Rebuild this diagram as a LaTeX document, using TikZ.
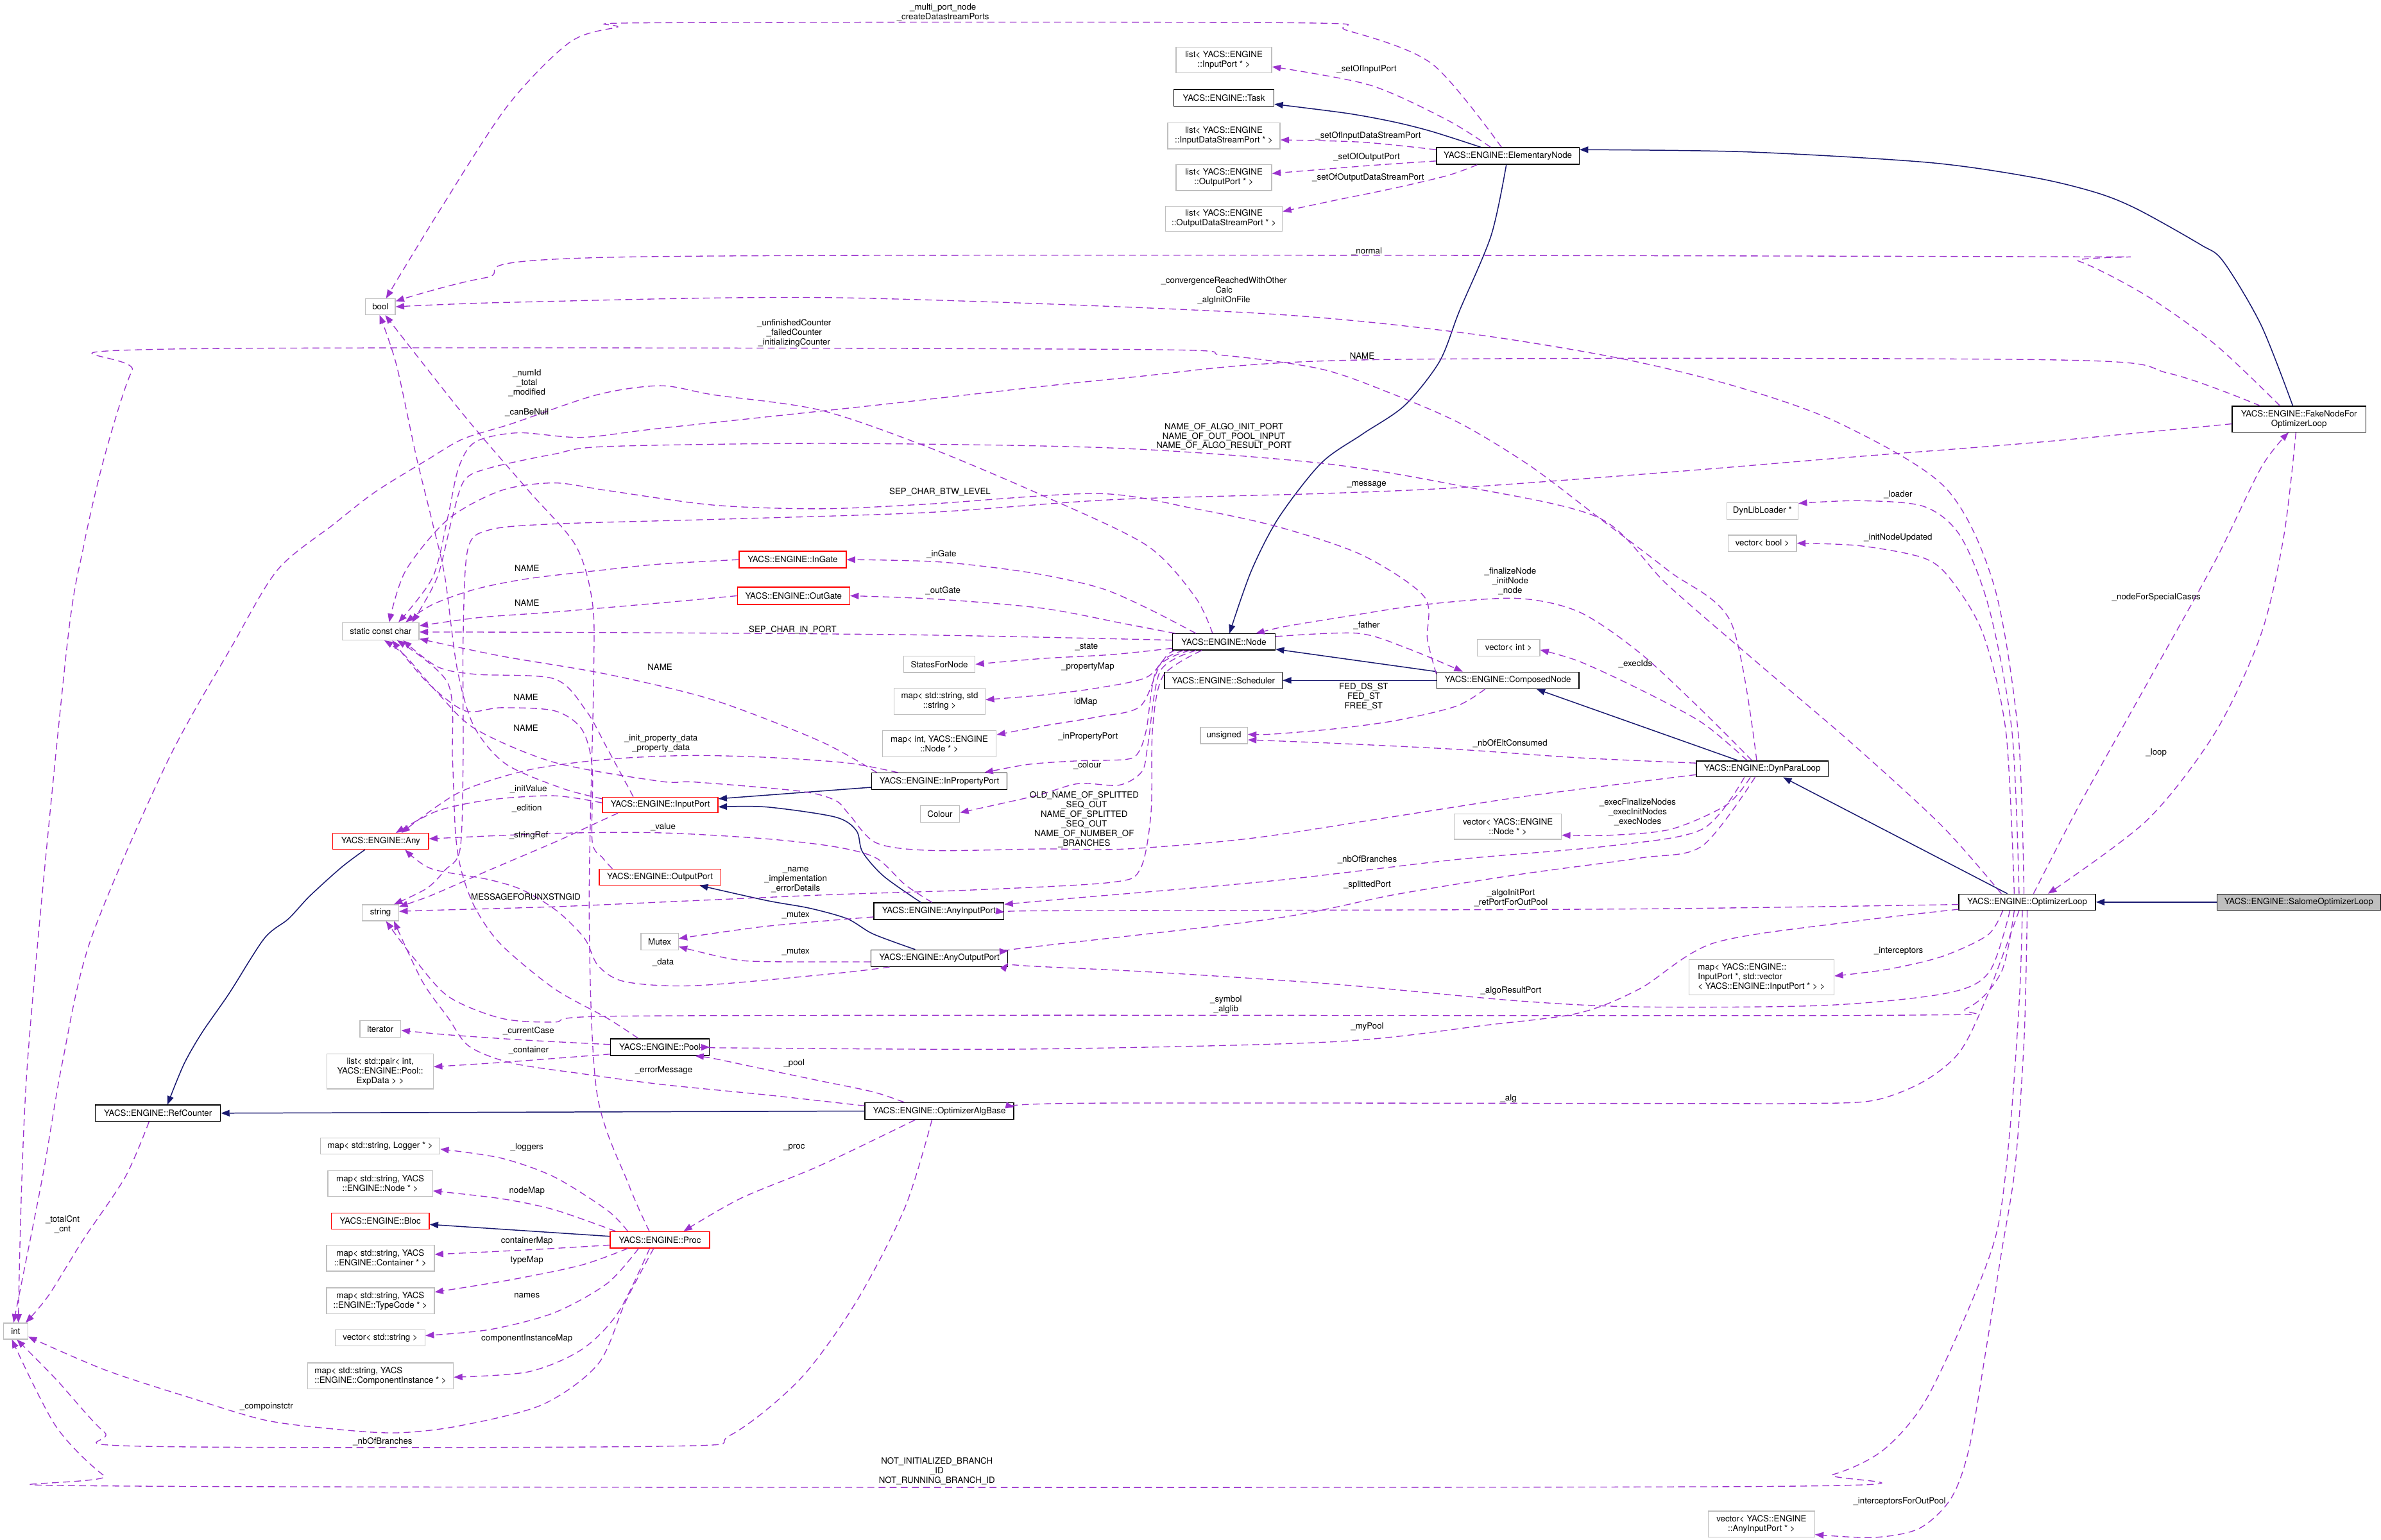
\documentclass[tikz,border=0pt]{standalone}
\usepackage{fontspec}
\setmainfont{TeX Gyre Heros}
\usetikzlibrary{arrows.meta}
\definecolor{purp}{HTML}{9A32CD}
\definecolor{navy}{HTML}{191970}
\definecolor{gryb}{HTML}{BFBFBF}
\begin{document}
\begin{tikzpicture}[x=0.025cm,y=-0.025cm,
  every node/.style={font=\fontsize{4}{4.5}\selectfont},
  bx/.style={rectangle, inner sep=0pt, align=center, line width=0.4pt},
  sz/.style 2 args={minimum width=#1*0.025cm, minimum height=#2*0.025cm},
  cls/.style={bx, draw=black},
  ext/.style={bx, draw=gryb},
  trn/.style={bx, draw=red},
  dep/.style={draw=purp, line width=0.4pt, dash pattern=on 3.2pt off 2pt, -{Triangle[length=4pt,width=3pt,fill=purp]}},
  inh/.style={draw=navy, line width=0.45pt, -{Triangle[length=4pt,width=3pt,fill=navy]}},
  lb/.style={inner sep=0pt, align=center}]
\fill[white] (0,0) rectangle (1568,1014);
\useasboundingbox (0,0) rectangle (1568,1014);

% ---------- nodes ----------
\node[ext,sz={63}{17}] (lInPort) at (806,39.5) {list< YACS::ENGINE\\::InputPort * >};
\node[cls,sz={66}{11}] (Task) at (806,64.5) {YACS::ENGINE::Task};
\node[ext,sz={74}{17}] (lInDS) at (806,89.5) {list< YACS::ENGINE\\::InputDataStreamPort * >};
\node[ext,sz={63}{17}] (lOutPort) at (806,117) {list< YACS::ENGINE\\::OutputPort * >};
\node[ext,sz={77}{16.6}] (lOutDS) at (806,144) {list< YACS::ENGINE\\::OutputDataStreamPort * >};
\node[cls,sz={94}{11}] (ElemNode) at (993,102.7) {YACS::ENGINE::ElementaryNode};
\node[ext,sz={19.5}{10.5}] (bool) at (250.5,202) {bool};
\node[cls,sz={88}{17}] (FakeNode) at (1514,276) {YACS::ENGINE::FakeNodeFor\\OptimizerLoop};
\node[ext,sz={47}{11}] (DynLib) at (1160.6,336.5) {DynLibLoader *};
\node[ext,sz={45}{10.7}] (vecBool) at (1160.6,357.7) {vector< bool >};
\node[trn,sz={70.5}{11}] (InGate) at (522,368.5) {YACS::ENGINE::InGate};
\node[trn,sz={74}{11.4}] (OutGate) at (522.6,392.3) {YACS::ENGINE::OutGate};
\node[ext,sz={50.5}{11.4}] (scc) at (250.7,415.7) {static const char};
\node[ext,sz={47}{10.7}] (States) at (618.6,437.4) {StatesForNode};
\node[cls,sz={67.5}{10.7}] (Node) at (806,422.7) {YACS::ENGINE::Node};
\node[ext,sz={41}{11}] (vecInt) at (993.5,426.5) {vector< int >};
\node[cls,sz={77.5}{11}] (Sched) at (805.7,448) {YACS::ENGINE::Scheduler};
\node[cls,sz={93.6}{11}] (Composed) at (993,448) {YACS::ENGINE::ComposedNode};
\node[ext,sz={60}{17.4}] (mapSS) at (618.8,461.8) {map< std::string, std\\::string >};
\node[ext,sz={75}{17.4}] (mapIN) at (618.6,489.8) {map< int, YACS::ENGINE\\::Node * >};
\node[ext,sz={31}{10.7}] (unsigned) at (806,484.4) {unsigned};
\node[cls,sz={87}{10.5}] (DynPara) at (1160.6,506.3) {YACS::ENGINE::DynParaLoop};
\node[cls,sz={89}{11}] (InProp) at (618.6,514.5) {YACS::ENGINE::InPropertyPort};
\node[ext,sz={26}{11}] (Colour) at (619,536) {Colour};
\node[ext,sz={70.5}{16.6}] (vecNode) at (993,544.3) {vector< YACS::ENGINE\\::Node * >};
\node[trn,sz={63}{10.5}] (Any) at (250.7,554) {YACS::ENGINE::Any};
\node[trn,sz={76}{10.3}] (InputPort) at (434.8,530) {YACS::ENGINE::InputPort};
\node[trn,sz={80}{10.5}] (OutputPort) at (434.6,577.5) {YACS::ENGINE::OutputPort};
\node[ext,sz={24}{10.5}] (string) at (250.6,601) {string};
\node[cls,sz={85.7}{11}] (AnyIn) at (618.3,600) {YACS::ENGINE::AnyInputPort};
\node[ext,sz={24.6}{11}] (Mutex) at (434.4,620) {Mutex};
\node[cls,sz={90}{11}] (AnyOut) at (618.6,631) {YACS::ENGINE::AnyOutputPort};
\node[cls,sz={90}{10.5}] (OptLoop) at (1335,594) {YACS::ENGINE::OptimizerLoop};
\node[cls,sz={107.7}{10.5},fill=gryb] (Salome) at (1513.8,594) {YACS::ENGINE::SalomeOptimizerLoop};
\node[ext,sz={95.6}{23},align=left] (mapIP) at (1160,643.5) {map< YACS::ENGINE::\\InputPort *, std::vector\\< YACS::ENGINE::InputPort * > >};
\node[ext,sz={27}{11}] (iterator) at (250.5,677.5) {iterator};
\node[cls,sz={65}{11}] (Pool) at (434.6,689.5) {YACS::ENGINE::Pool};
\node[ext,sz={70}{23}] (listPair) at (250.4,705.5) {list< std::pair< int,\\YACS::ENGINE::Pool::\\ExpData > >};
\node[cls,sz={82.5}{10.7}] (RefCounter) at (104,733) {YACS::ENGINE::RefCounter};
\node[cls,sz={98}{11}] (OptAlg) at (618.6,731.6) {YACS::ENGINE::OptimizerAlgBase};
\node[ext,sz={78.5}{10.7}] (mapLog) at (250.4,754.6) {map< std::string, Logger * >};
\node[ext,sz={69}{17}] (mapNode) at (250.4,779.3) {map< std::string, YACS\\::ENGINE::Node * >};
\node[trn,sz={64.6}{10.6}] (Bloc) at (250.4,804) {YACS::ENGINE::Bloc};
\node[trn,sz={65.5}{10.8}] (Proc) at (434.6,816.4) {YACS::ENGINE::Proc};
\node[ext,sz={71}{17}] (mapCont) at (250.5,828.5) {map< std::string, YACS\\::ENGINE::Container * >};
\node[ext,sz={71}{17}] (mapTC) at (250.5,856.5) {map< std::string, YACS\\::ENGINE::TypeCode * >};
\node[ext,sz={59}{10.6}] (vecStr) at (250.4,881) {vector< std::string >};
\node[ext,sz={96}{17},align=left] (mapCI) at (250.6,906) {map< std::string, YACS\\::ENGINE::ComponentInstance * >};
\node[ext,sz={16}{10.5}] (int) at (10.3,876.5) {int};
\node[ext,sz={70}{17}] (vecAIP) at (1160,1003.6) {vector< YACS::ENGINE\\::AnyInputPort * >};

% ---------- inheritance ----------
\draw[inh] plot[smooth] coordinates {(ElemNode.162) (943,86.6) (918,80.3) (887,74.6) (Task.-7)};
\draw[inh] plot[smooth] coordinates {(ElemNode.260) (982,155) (961,205) (948,238) (925,267) (897,286) (870,305) (842,341) (824,376) (Node.57)};
\draw[inh] (Composed.173) -- (Node.-8);
\draw[inh] (Composed.west) -- (Sched.east);
\draw[inh] (DynPara.161) -- (Composed.-17);
\draw[inh] (OptLoop.157) -- (DynPara.-22);
\draw[inh] (Salome.west) -- (OptLoop.east);
\draw[inh] plot[smooth] coordinates {(FakeNode.115) (1489,214) (1464,172) (1449,161) (1408,138) (1381,127) (1340,117) (1270,107) (1150,100) (ElemNode.5)};
\draw[inh] (InProp.185) -- (InputPort.6);
\draw[inh] plot[smooth] coordinates {(AnyIn.154) (582,577) (568,561) (564,547) (550,538) (505,531.4) (InputPort.-2)};
\draw[inh] plot[smooth] coordinates {(AnyOut.160) (575,615) (558,605) (533,598) (505,593) (OutputPort.-12)};
\draw[inh] plot[smooth] coordinates {(Any.-152) (225,571) (204,590) (190,605) (174,618) (151,654) (133,680) (121,701) (RefCounter.42)};
\draw[inh] (OptAlg.west) -- (RefCounter.east);
\draw[inh] (Proc.176) -- (Bloc.-4);

% ---------- usage ----------
\draw[dep] plot[smooth] coordinates {(ElemNode.126) (943,42) (887,20) (851,15) (431,15) (406,18) (375,28) (334,70) (288,141) (bool.56)};
\draw[dep] plot[smooth] coordinates {(ElemNode.153) (953,79) (902,56) (lInPort.-8)};
\draw[dep] plot[smooth] coordinates {(ElemNode.175) (897,93.6) (lInDS.-4)};
\draw[dep] plot[smooth] coordinates {(ElemNode.184) (902,109) (lOutPort.5)};
\draw[dep] plot[smooth] coordinates {(ElemNode.196) (953.5,115.5) (917.7,124) (876.7,132.4) (lOutDS.7)};
\draw[dep] plot[smooth] coordinates {(FakeNode.145) (1459,227) (1414,195) (1369,172) (1339,169) (426,169) (319,183) (bool.20)};
\draw[dep] plot[smooth] coordinates {(OptLoop.111) (1329,482) (1313,385) (1281,321) (1212,279) (1145,255) (1067,236) (962,219) (824,206) (549,196) (339,199) (bool.0)};
\draw[dep] plot[smooth] coordinates {(DynPara.124) (1140,410) (1099,376) (1053,341) (1008,307) (962,279) (916,259) (870,243) (806,234) (733,230) (104,230) (87,244) (69,300) (55,360) (43.5,431) (18,701) (int.72)};
\draw[dep] plot[smooth] coordinates {(Node.143) (787,393) (755,359) (686,326) (610,294) (540,270) (470,260) (435,254) (393,260) (337,279) (305,289) (281,303) (247,324) (220,345) (183,375) (153,425) (110,502) (60,618) (41,700) (28,775) (int.104)};
\draw[dep] plot[smooth] coordinates {(RefCounter.224) (82.5,775) (55,816) (32,853) (int.40)};
\draw[dep] plot[smooth] coordinates {(Proc.234) (412,857) (394,898) (357,925) (302,939) (261,943.5) (220,941) (174,935) (124,920) (69,902) (int.-24)};
\draw[dep] plot[smooth] coordinates {(OptAlg.230) (596,795) (564,857) (527,908) (481,945) (440,952.3) (91.6,952.3) (68.7,943) (36.7,908) (int.-82)};
\draw[dep] plot[smooth] coordinates {(OptLoop.240) (1330,655) (1324,740) (1315,811) (1294,867.5) (1267,924) (1240,955) (1207,971) (1158.5,978.8) (91.6,978.6) (68.7,971.8) (36.7,939) (int.-114)};
\draw[dep] plot[smooth] coordinates {(Node.6) (894,417) (927,427) (Composed.169)};
\draw[dep] plot[smooth] coordinates {(DynPara.141) (1121,468) (1080,430) (1040,403) (999,394) (939,398) (886,406) (846,412.6) (Node.15)};
\draw[dep] plot[smooth] coordinates {(Node.163) (756,400.7) (724,387) (678,377) (618.5,370) (InGate.0)};
\draw[dep] plot[smooth] coordinates {(Node.170) (742,411) (687,400.6) (618,394.6) (OutGate.0)};
\draw[dep] plot[smooth] coordinates {(Node.178) (600,418) (400,416.5) (scc.-1)};
\draw[dep] plot[smooth] coordinates {(Node.187) (732.5,431) (686.7,433.6) (States.0)};
\draw[dep] plot[smooth] coordinates {(Node.190) (769,431) (755,446) (723,453) (687,457.6) (mapSS.2)};
\draw[dep] plot[smooth] coordinates {(Node.192) (765,436) (751,465) (723,472) (687,478) (mapIN.9)};
\draw[dep] plot[smooth] coordinates {(Node.194) (762,440) (755,480) (750,495) (742,500) (710,501) (677.5,503.3) (InProp.11)};
\draw[dep] plot[smooth] coordinates {(Node.197) (764,442) (756,490) (752,508) (737,517) (710,516) (682,524) (Colour.4)};
\draw[dep] plot[smooth] coordinates {(Node.201) (766,445) (759,480) (758,535) (751,572) (732,581) (641,586) (550,589) (458,593) (367,597) (284,599.4) (string.4)};
\draw[dep] plot[smooth] coordinates {(Composed.201) (959,465) (919,474.5) (878,480) (838,483.4) (unsigned.3)};
\draw[dep] plot[smooth] coordinates {(DynPara.175) (1040,499) (959,493.4) (878,489.4) (unsigned.-10)};
\draw[dep] plot[smooth] coordinates {(DynPara.151) (1121,476) (1080,454) (1040,435.5) (vecInt.-4)};
\draw[dep] plot[smooth] coordinates {(DynPara.185) (1007,524) (916,538) (824,552) (742,559) (687,559) (613,560) (577,555) (559,536) (550,527) (527,521) (458,515) (435,514.5) (365,502) (313,480) (288,456) (267,432) (scc.-68)};
\draw[dep] plot[smooth] coordinates {(DynPara.215) (1137,530) (1100.5,546) (1060,550) (vecNode.-9)};
\draw[dep] plot[smooth] coordinates {(DynPara.205) (1121,546) (1060,557) (959,566) (838,580) (700,592) (AnyIn.6)};
\draw[dep] plot[smooth] coordinates {(DynPara.229) (1121,557) (1080,565) (999,576) (919,589) (838,605) (676,624) (AnyOut.6)};
\draw[dep] plot[smooth] coordinates {(OptLoop.162) (1279,544) (1219,489) (1158,437) (1098,385) (1053,341) (962,320) (870,305) (733,295) (549,292) (400,294) (365,299) (323,308) (306,316) (298,340) (288,380) (scc.16)};
\draw[dep] plot[smooth] coordinates {(FakeNode.161) (1429,246) (1354,237) (897,237) (739,249) (575,267) (435,282) (383,288) (341,285) (313,291) (302,308) (295,340) (285,380) (scc.27)};
\draw[dep] plot[smooth] coordinates {(Composed.175) (940,421) (938,393) (897,365.5) (842,347) (787,335) (723,325) (610,332) (540,335) (470,332.6) (400,323) (365,318) (330,323) (295,342) (267,376) (scc.47)};
\draw[dep] plot[smooth] coordinates {(InGate.180) (435,371.4) (400,375) (348,381) (313,388) (285,398) (scc.20)};
\draw[dep] plot[smooth] coordinates {(OutGate.180) (435,397) (365,403) (316,406.6) (scc.8)};
\draw[dep] plot[smooth] coordinates {(InProp.172) (540,488) (470,461) (400,444) (330,432) (scc.-11)};
\draw[dep] plot[smooth] coordinates {(InputPort.163) (400,493) (386,468) (365,447) (313,444) (288,439) (scc.-22)};
\draw[dep] plot[smooth] coordinates {(OutputPort.170) (397,565) (390,554) (390,505) (383,480) (365,468) (330,466) (306,468) (281,449) (scc.-38)};
\draw[dep] plot[smooth] coordinates {(Pool.158) (400,670.5) (365,651) (330,622) (313,598) (304,574) (300,549) (298,500) (295,450) (scc.-29)};
\draw[dep] plot[smooth] coordinates {(FakeNode.184) (1339,291.5) (1219,301) (1098,311) (962,321) (870,325) (733,329) (610,337.5) (470,342) (365,345) (322,349) (308,362) (305,420) (305,500) (303,559) (293,573) (281,585) (string.32)};
\draw[dep] plot[smooth] coordinates {(InputPort.191) (389.5,543.4) (366.6,554) (320.7,573.6) (284,589.6) (string.18)};
\draw[dep] plot[smooth] coordinates {(InputPort.178) (365,524) (323,526.6) (288,534) (Any.29)};
\draw[dep] plot[smooth] coordinates {(InputPort.174) (370,519) (333,503) (312,478) (301,440) (293,380) (285,345) (274,300) (261,240) (bool.-95)};
\draw[dep] plot[smooth] coordinates {(Proc.141) (414,780) (393,719) (388,600) (391,444) (390,396) (379,359) (348,323) (306,274) (bool.-60)};
\draw[dep] plot[smooth] coordinates {(InProp.168) (558,502.4) (505,498.7) (453,497.5) (400,500) (348,507) (302,522) (Any.22)};
\draw[dep] plot[smooth] coordinates {(AnyIn.128) (596,582.5) (577,565) (550,557.6) (504,552.3) (435,548.4) (367,548.7) (Any.3)};
\draw[dep] plot[smooth] coordinates {(AnyOut.190) (550,641) (458,649) (412,646.5) (394,636) (385,618) (367,600) (344,586) (321,579) (284,572) (Any.-19)};
\draw[dep] plot[smooth] coordinates {(AnyIn.185) (504,610) (Mutex.9)};
\draw[dep] plot[smooth] coordinates {(AnyOut.183) (504,633.2) (481,631.4) (Mutex.-15)};
\draw[dep] plot[smooth] coordinates {(Pool.177) (347.7,685) (295,681.4) (iterator.-4)};
\draw[dep] plot[smooth] coordinates {(Pool.188) (330,699.6) (listPair.5)};
\draw[dep] plot[smooth] coordinates {(OptAlg.166) (575,719) (540,711.7) (505,704.4) (470,697) (Pool.-14)};
\draw[dep] plot[smooth] coordinates {(OptAlg.176) (505,721) (435,714) (383,707) (337,700) (309,689) (295,670) (278,646) (string.-32)};
\draw[dep] plot[smooth] coordinates {(OptAlg.200) (540,767.5) (488,789) (Proc.20)};
\draw[dep] plot[smooth] coordinates {(Proc.165) (400,797) (365,775) (330,762.6) (mapLog.-3)};
\draw[dep] plot[smooth] coordinates {(Proc.169) (365,796.6) (330,789.3) (mapNode.-8)};
\draw[dep] plot[smooth] coordinates {(Proc.186) (348,823) (mapCont.4)};
\draw[dep] plot[smooth] coordinates {(Proc.195) (383,833) (337,842.6) (mapTC.9)};
\draw[dep] plot[smooth] coordinates {(Proc.202) (400,845) (365,864.4) (323,875.4) (vecStr.3)};
\draw[dep] plot[smooth] coordinates {(Proc.220) (407,864.4) (383,888.7) (348,903.3) (mapCI.-1)};
\draw[dep] plot[smooth] coordinates {(OptLoop.134) (1325,482) (1310,401) (1291,353) (1267,333.5) (1225,329.7) (DynLib.12)};
\draw[dep] plot[smooth] coordinates {(OptLoop.147) (1321,482) (1306,417.6) (1285,382) (1267,367.5) (1225,359.4) (vecBool.0)};
\draw[dep] plot[smooth] coordinates {(OptLoop.53) (1369,530.7) (1414,450) (1459,369) (1489,308) (FakeNode.232)};
\draw[dep] plot[smooth] coordinates {(FakeNode.257) (1504,353) (1489,417.6) (1459,482) (1414,540) (OptLoop.22)};
\draw[dep] plot[smooth] coordinates {(OptLoop.182) (1080,598.5) (800,599.5) (676,599.8) (AnyIn.-1)};
\draw[dep] plot[smooth] coordinates {(OptLoop.206) (1310,640) (1282,654) (1202,662) (1080,663) (999,659) (878,648) (757,640) (676,636) (AnyOut.-4)};
\draw[dep] plot[smooth] coordinates {(OptLoop.213) (1318,640) (1295,664) (1250,668.5) (676,668.5) (400,669.2) (365,673) (330,670.5) (295,656) (271,629) (string.-57)};
\draw[dep] plot[smooth] coordinates {(OptLoop.186) (1218.7,607) (1128.5,621) (1080,651) (1040,667) (979,675) (878,686) (676,690.8) (480,690) (Pool.0)};
\draw[dep] plot[smooth] coordinates {(OptLoop.199) (1309,615.7) (1279,629.8) (1243,638.3) (mapIP.1)};
\draw[dep] plot[smooth] coordinates {(OptLoop.226) (1309,655) (1291,692) (1267,712) (1234,724.6) (1189,726.6) (1098,726.6) (718,726.4) (OptAlg.3)};
\draw[dep] plot[smooth] coordinates {(OptLoop.270) (1333,683.6) (1327,768.5) (1318,825) (1309,881.7) (1297,952.5) (1285,986.4) (1264,1006.4) (1234,1012.4) (vecAIP.-11)};

% ---------- labels ----------
\node[lb] (t1) at (621,8.1) {\_multi\_port\_node\\\_createDatastreamPorts};
\node[lb] (t2) at (900,45.5) {\_setOfInputPort};
\node[lb] (t3) at (901,89.4) {\_setOfInputDataStreamPort};
\node[lb] (t4) at (900,103.5) {\_setOfOutputPort};
\node[lb] (t5) at (901,117) {\_setOfOutputDataStreamPort};
\node[lb] (t6) at (900,165.4) {\_normal};
\node[lb] (t7) at (806,191.5) {\_convergenceReachedWithOther\\Calc\\\_algInitOnFile};
\node[lb] (t8) at (523,219.4) {\_unfinishedCounter\\\_failedCounter\\\_initializingCounter};
\node[lb] (t9) at (347,252) {\_numId\\\_total\\\_modified};
\node[lb] (t10) at (347,271.5) {\_canBeNull};
\node[lb] (t11) at (897,234.2) {NAME};
\node[lb] (t12) at (806,287.4) {NAME\_OF\_ALGO\_INIT\_PORT\\NAME\_OF\_OUT\_POOL\_INPUT\\NAME\_OF\_ALGO\_RESULT\_PORT};
\node[lb] (t13) at (900,319) {\_message};
\node[lb] (t14) at (619,324) {SEP\_CHAR\_BTW\_LEVEL};
\node[lb] (t15) at (1250,325.6) {\_loader};
\node[lb] (t16) at (1250,354) {\_initNodeUpdated};
\node[lb] (t17) at (620,365) {\_inGate};
\node[lb] (t18) at (347,374.3) {NAME};
\node[lb] (t19) at (994.6,382.8) {\_finalizeNode\\\_initNode\\\_node};
\node[lb] (t20) at (621,389) {\_outGate};
\node[lb] (t21) at (1420,393.3) {\_nodeForSpecialCases};
\node[lb] (t22) at (347,396.9) {NAME};
\node[lb] (t23) at (900,412) {\_father};
\node[lb] (t24) at (522,415) {SEP\_CHAR\_IN\_PORT};
\node[lb] (t25) at (715.5,426.2) {\_state};
\node[lb] (t26) at (1077,437.4) {\_execIds};
\node[lb] (t27) at (716.4,439.2) {\_propertyMap};
\node[lb] (t28) at (434.6,439.3) {NAME};
\node[lb] (t29) at (898,458.6) {FED\_DS\_ST\\FED\_ST\\FREE\_ST};
\node[lb] (t30) at (346.3,459.2) {NAME};
\node[lb] (t31) at (715,462.3) {idMap};
\node[lb] (t32) at (346.3,479.3) {NAME};
\node[lb] (t33) at (716.5,485) {\_inPropertyPort};
\node[lb] (t34) at (435.3,489.6) {\_init\_property\_data\\\_property\_data};
\node[lb] (t35) at (994.5,489.6) {\_nbOfEltConsumed};
\node[lb] (t36) at (1420,495.8) {\_loop};
\node[lb] (t37) at (716,504) {\_colour};
\node[lb] (t38) at (348,519.8) {\_initValue};
\node[lb] (t39) at (714,539.6) {OLD\_NAME\_OF\_SPLITTED\\\_SEQ\_OUT\\NAME\_OF\_SPLITTED\\\_SEQ\_OUT\\NAME\_OF\_NUMBER\_OF\\\_BRANCHES};
\node[lb] (t40) at (1078.5,535) {\_execFinalizeNodes\\\_execInitNodes\\\_execNodes};
\node[lb] (t41) at (347,532.2) {\_edition};
\node[lb] (t42) at (436.7,544.5) {\_value};
\node[lb] (t43) at (348.2,550.2) {\_stringRef};
\node[lb] (t44) at (900.4,565.9) {\_nbOfBranches};
\node[lb] (t45) at (524,579.5) {\_name\\\_implementation\\\_errorDetails};
\node[lb] (t46) at (900.4,582.6) {\_splittedPort};
\node[lb] (t47) at (995,591.4) {\_algoInitPort\\\_retPortForOutPool};
\node[lb] (t48) at (346.3,590.7) {MESSAGEFORUNXSTNGID};
\node[lb] (t49) at (524,602.8) {\_mutex};
\node[lb] (t50) at (1250.3,626.4) {\_interceptors};
\node[lb] (t51) at (524,626.9) {\_mutex};
\node[lb] (t52) at (436.7,633.6) {\_data};
\node[lb] (t53) at (995,652.4) {\_algoResultPort};
\node[lb] (t54) at (807.4,661.6) {\_symbol\\\_alglib};
\node[lb] (t55) at (900.4,675.9) {\_myPool};
\node[lb] (t56) at (348.1,678.7) {\_currentCase};
\node[lb] (t57) at (348.1,691.5) {\_container};
\node[lb] (t58) at (523,700) {\_pool};
\node[lb] (t59) at (437.1,704.9) {\_errorMessage};
\node[lb] (t60) at (993.4,723.2) {\_alg};
\node[lb] (t61) at (523,755.5) {\_proc};
\node[lb] (t62) at (347,755.6) {\_loggers};
\node[lb] (t63) at (347,784.4) {nodeMap};
\node[lb] (t64) at (41.2,806.4) {\_totalCnt\\\_cnt};
\node[lb] (t65) at (347,817.2) {containerMap};
\node[lb] (t66) at (347,830) {typeMap};
\node[lb] (t67) at (347,853.2) {names};
\node[lb] (t68) at (347,881.4) {componentInstanceMap};
\node[lb] (t69) at (175.5,926.3) {\_compoinstctr};
\node[lb] (t70) at (252,949.3) {\_nbOfBranches};
\node[lb] (t71) at (617,968.7) {NOT\_INITIALIZED\_BRANCH\\\_ID\\NOT\_RUNNING\_BRANCH\_ID};
\node[lb] (t72) at (1250.9,988.7) {\_interceptorsForOutPool};
\end{tikzpicture}
\end{document}
